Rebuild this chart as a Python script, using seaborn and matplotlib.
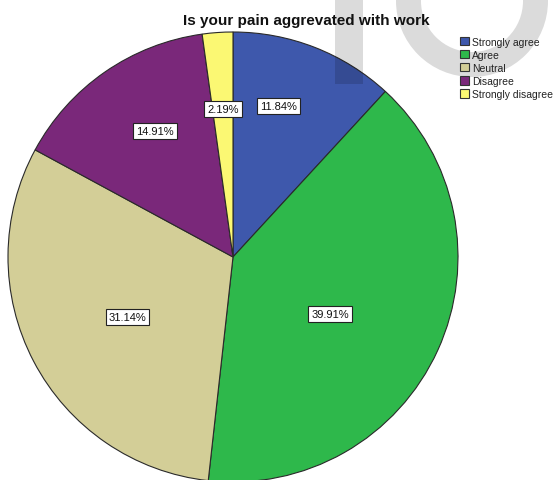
import numpy as np
import matplotlib
matplotlib.use("Agg")
import matplotlib.pyplot as plt
from matplotlib.patches import Rectangle, Wedge, Patch
import seaborn as sns

# Survey responses
categories = ["Strongly agree", "Agree", "Neutral", "Disagree", "Strongly disagree"]
percentages = [11.84, 39.91, 31.14, 14.91, 2.19]
slice_colors = ["#3E58AC", "#2EB84B", "#D3CE97", "#7A287A", "#FBF873"]
title = "Is your pain aggrevated with work"

# label placement: fraction of radius and angular nudge (deg) from slice middle
label_radius = [0.70, 0.50, 0.54, 0.66, 0.66]
label_nudge = [4.6, -5.8, 2.1, -3.0, 0.0]

sns.set_theme(style="white")
plt.rcParams["font.family"] = ["Liberation Sans", "DejaVu Sans"]

W, H = 554, 481
fig = plt.figure(figsize=(W / 100, H / 100), dpi=100)
fig.patch.set_facecolor("white")

# pie centred at (233, 258) px with radius 225 px
cx, cy, r = 233, 258, 225
ax = fig.add_axes([(cx - r) / W, (H - cy - r) / H, 2 * r / W, 2 * r / H])
palette = sns.color_palette(slice_colors)
wedges, texts, autotexts = ax.pie(
    percentages,
    colors=palette,
    startangle=90,
    counterclock=False,
    autopct="%.2f%%",
    wedgeprops=dict(edgecolor="#2a2a2a", linewidth=0.8),
)
ax.set_xlim(-1, 1)
ax.set_ylim(-1, 1)
ax.set_aspect("equal")
ax.axis("off")

for w, t, rf, dn in zip(wedges, autotexts, label_radius, label_nudge):
    mid = np.deg2rad((w.theta1 + w.theta2) / 2 + dn)
    t.set_position((rf * np.cos(mid), rf * np.sin(mid)))
    t.set_fontsize(8)
    t.set_color("#111111")
    t.set_bbox(dict(boxstyle="square,pad=0.28", facecolor="white",
                    edgecolor="#222222", linewidth=0.8))

# faint watermark lettering drawn over the chart in figure pixel space
ov = fig.add_axes([0, 0, 1, 1], zorder=1)
ov.set_xlim(0, W)
ov.set_ylim(H, 0)
ov.axis("off")
ov.patch.set_alpha(0)
shade = dict(facecolor="black", edgecolor="none", alpha=0.14)
ov.add_patch(Rectangle((335, -5), 28, 90, **shade))
ov.add_patch(Wedge((472, 2), 76, 0, 180, width=25, **shade))
ov.add_patch(Rectangle((396, -5), 25, 7, **shade))
ov.add_patch(Rectangle((523, -5), 25, 7, **shade))

fig.text(306 / W, 1 - 21 / H, title, ha="center", va="center",
         fontsize=11, fontweight="bold", color="#111111", zorder=10)

handles = [Patch(facecolor=c, edgecolor="#333333", linewidth=0.8) for c in slice_colors]
leg = fig.legend(handles, categories, loc="upper left",
                 bbox_to_anchor=(460 / W, 1 - 37.5 / H), frameon=False,
                 fontsize=7.5, handlelength=0.9, handleheight=0.9,
                 handletextpad=0.25, labelspacing=0.3, borderpad=0,
                 borderaxespad=0)
leg.set_zorder(10)
for txt in leg.get_texts():
    txt.set_color("#222222")

fig.savefig("out.png", dpi=100, facecolor="white")
